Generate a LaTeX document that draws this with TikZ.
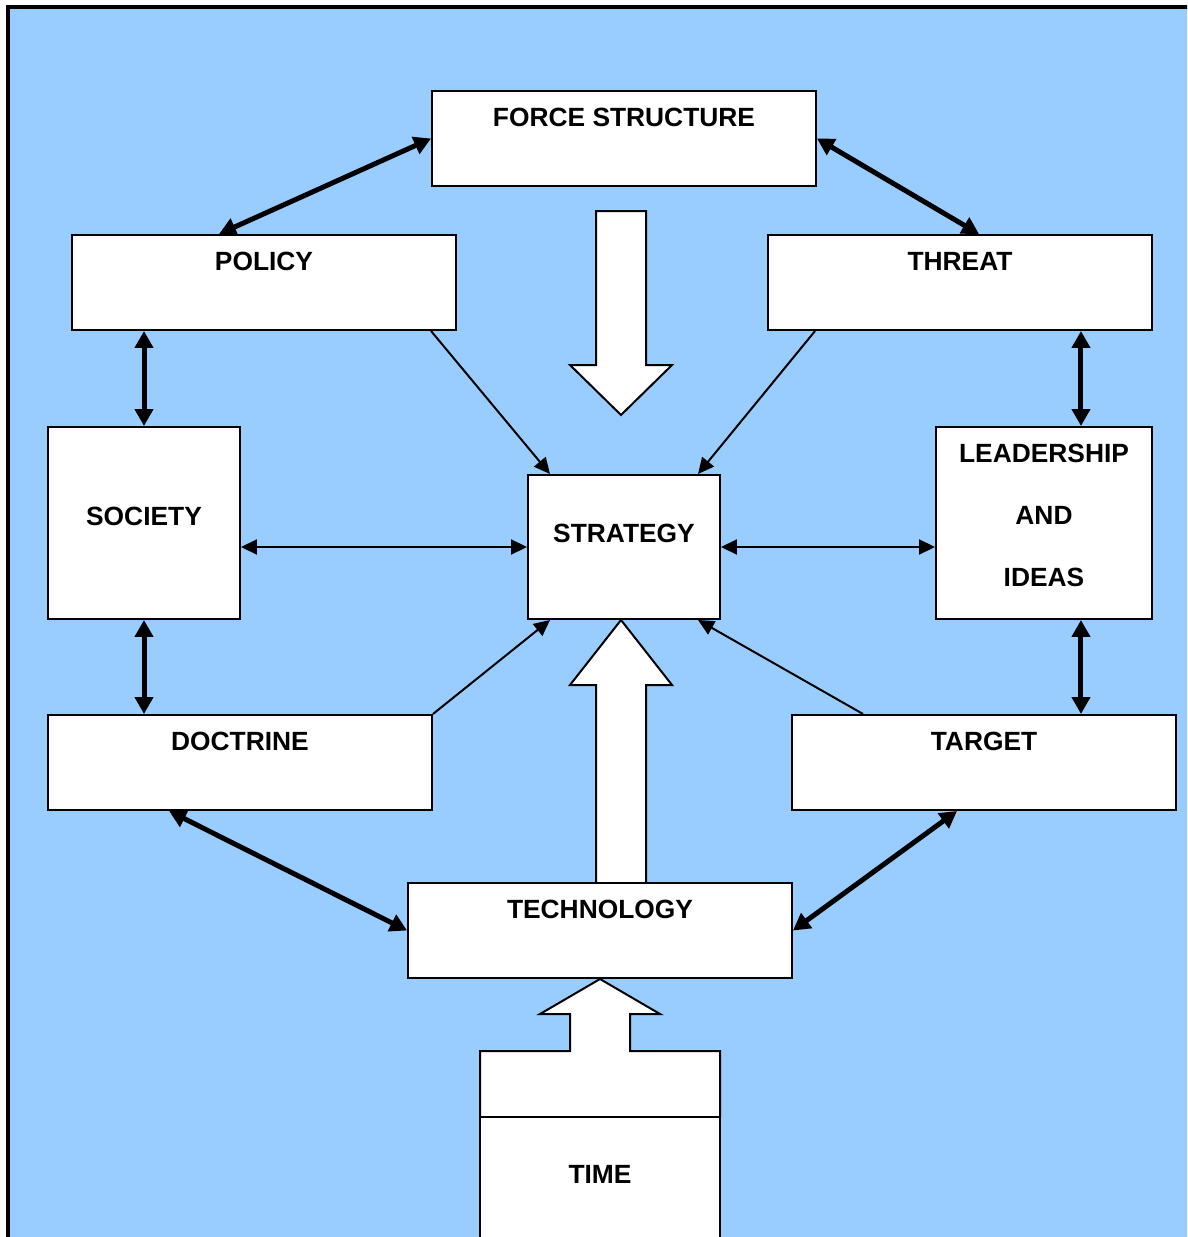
\documentclass[tikz,border=0pt]{standalone}
\usepackage{fontspec}
\setmainfont{Liberation Sans}
\usetikzlibrary{arrows.meta,calc}
\definecolor{skyfill}{HTML}{99CCFF}

\begin{document}
\begin{tikzpicture}[x=0.02cm, y=-0.02cm,
  boxfont/.style={font=\bfseries\fontsize{15}{18}\selectfont},
  box/.style={draw=black, fill=white, line width=0.04cm, inner sep=0pt, boxfont},
  every label/.style={boxfont, inner sep=0pt},
  toptext/.style={label={[anchor=center, yshift=-0.54cm]north:#1}},
  midtext/.style 2 args={label={[anchor=center, yshift=#2]center:#1}},
  twoway/.style={{Triangle[length=0.34cm,width=0.36cm]}-{Triangle[length=0.34cm,width=0.36cm]}, line width=0.1cm},
  oneway/.style={-{Triangle[length=0.32cm,width=0.3cm]}, line width=0.04cm},
  boththin/.style={{Triangle[length=0.32cm,width=0.3cm]}-{Triangle[length=0.32cm,width=0.3cm]}, line width=0.04cm},
  blockarrow/.style={draw=black, fill=white, line width=0.04cm, line join=miter}
]
\useasboundingbox (0,0) rectangle (1187,1237);
\begin{scope}
\clip (0,0) rectangle (1187,1237);

% framed background
\draw[fill=skyfill, line width=0.08cm] (8,7) rectangle (1260,1300);

% broad arrows: force structure down onto strategy, technology up into strategy
\path[blockarrow] (596,211) -- (646,211) -- (646,365) -- (672,365) -- (621,415)
  -- (570,365) -- (596,365) -- cycle;
\path[blockarrow] (596,890) -- (596,685) -- (570,685) -- (621,620) -- (672,685)
  -- (646,685) -- (646,890);

% boxes
\node[box, minimum width=7.68cm, minimum height=1.9cm, toptext=FORCE STRUCTURE] (force) at (624,138.5) {};
\node[box, minimum width=7.68cm, minimum height=1.9cm, toptext=POLICY] (policy) at (264,282.5) {};
\node[box, minimum width=7.68cm, minimum height=1.9cm, toptext=THREAT] (threat) at (960,282.5) {};
\node[box, minimum width=3.84cm, minimum height=3.84cm, midtext={SOCIETY}{0.14cm}] (society) at (144,523) {};
\node[box, minimum width=3.84cm, minimum height=2.88cm, midtext={STRATEGY}{0.28cm}] (strategy) at (624,547) {};
\node[box, minimum width=4.32cm, minimum height=3.84cm,
  label={[anchor=center, yshift=0.16cm, align=center, font=\bfseries\fontsize{15}{35.3}\selectfont]center:LEADERSHIP\\AND\\IDEAS}] (leadership) at (1044,523) {};
\node[box, minimum width=7.68cm, minimum height=1.9cm, toptext=DOCTRINE] (doctrine) at (240,762.5) {};
\node[box, minimum width=7.68cm, minimum height=1.9cm, toptext=TARGET] (target) at (984,762.5) {};
\node[box, minimum width=7.68cm, minimum height=1.9cm, toptext=TECHNOLOGY] (technology) at (600,930.5) {};

% time: upper part merged with its arrow into technology
\path[blockarrow] (480,1117) -- (480,1051) -- (570,1051) -- (570,1014) -- (540,1014)
  -- (600,979) -- (660,1014) -- (630,1014) -- (630,1051) -- (720,1051) -- (720,1117);
\node[box, minimum width=4.8cm, minimum height=3.6cm,
  label={[anchor=center, yshift=-1.16cm]north:TIME}] (time) at (600,1207) {};

% attachment points along box edges
\coordinate (ptop) at ($(policy.north west)+(148,0)$);
\coordinate (ttop) at ($(threat.north west)+(212,0)$);
\coordinate (pbot) at ($(policy.south west)+(360,0)$);
\coordinate (tbot) at ($(threat.south west)+(48,0)$);
\coordinate (ltop) at ($(leadership.north east)+(-72,0)$);
\coordinate (lbot) at ($(leadership.south east)+(-72,0)$);
\coordinate (dbot) at ($(doctrine.south west)+(122,0)$);
\coordinate (gtop) at ($(target.north west)+(72,0)$);
\coordinate (gbot) at ($(target.south west)+(166,0)$);
\coordinate (snw) at ($(strategy.north west)+(23,0)$);
\coordinate (sne) at ($(strategy.north east)+(-23,0)$);
\coordinate (ssw) at ($(strategy.south west)+(23,0)$);
\coordinate (sse) at ($(strategy.south east)+(-23,0)$);

% two-way links around the ring
\draw[twoway] (ptop) -- (force.west);
\draw[twoway] (force.east) -- (ttop);
\draw[twoway] (policy.south -| society.north) -- (society.north);
\draw[twoway] (threat.south -| ltop) -- (ltop);
\draw[twoway] (society.south) -- (doctrine.north -| society.south);
\draw[twoway] (lbot) -- (target.north -| lbot);
\draw[twoway] (dbot) -- (technology.west);
\draw[twoway] (gbot) -- (technology.east);

% influences on strategy
\draw[oneway] (pbot) -- (snw);
\draw[oneway] (tbot) -- (sne);
\draw[oneway] (doctrine.north east) -- (ssw);
\draw[oneway] (gtop) -- (sse);
\draw[boththin] (strategy.west -| society.east) -- (strategy.west);
\draw[boththin] (strategy.east) -- (strategy.east -| leadership.west);
\end{scope}
\end{tikzpicture}
\end{document}
